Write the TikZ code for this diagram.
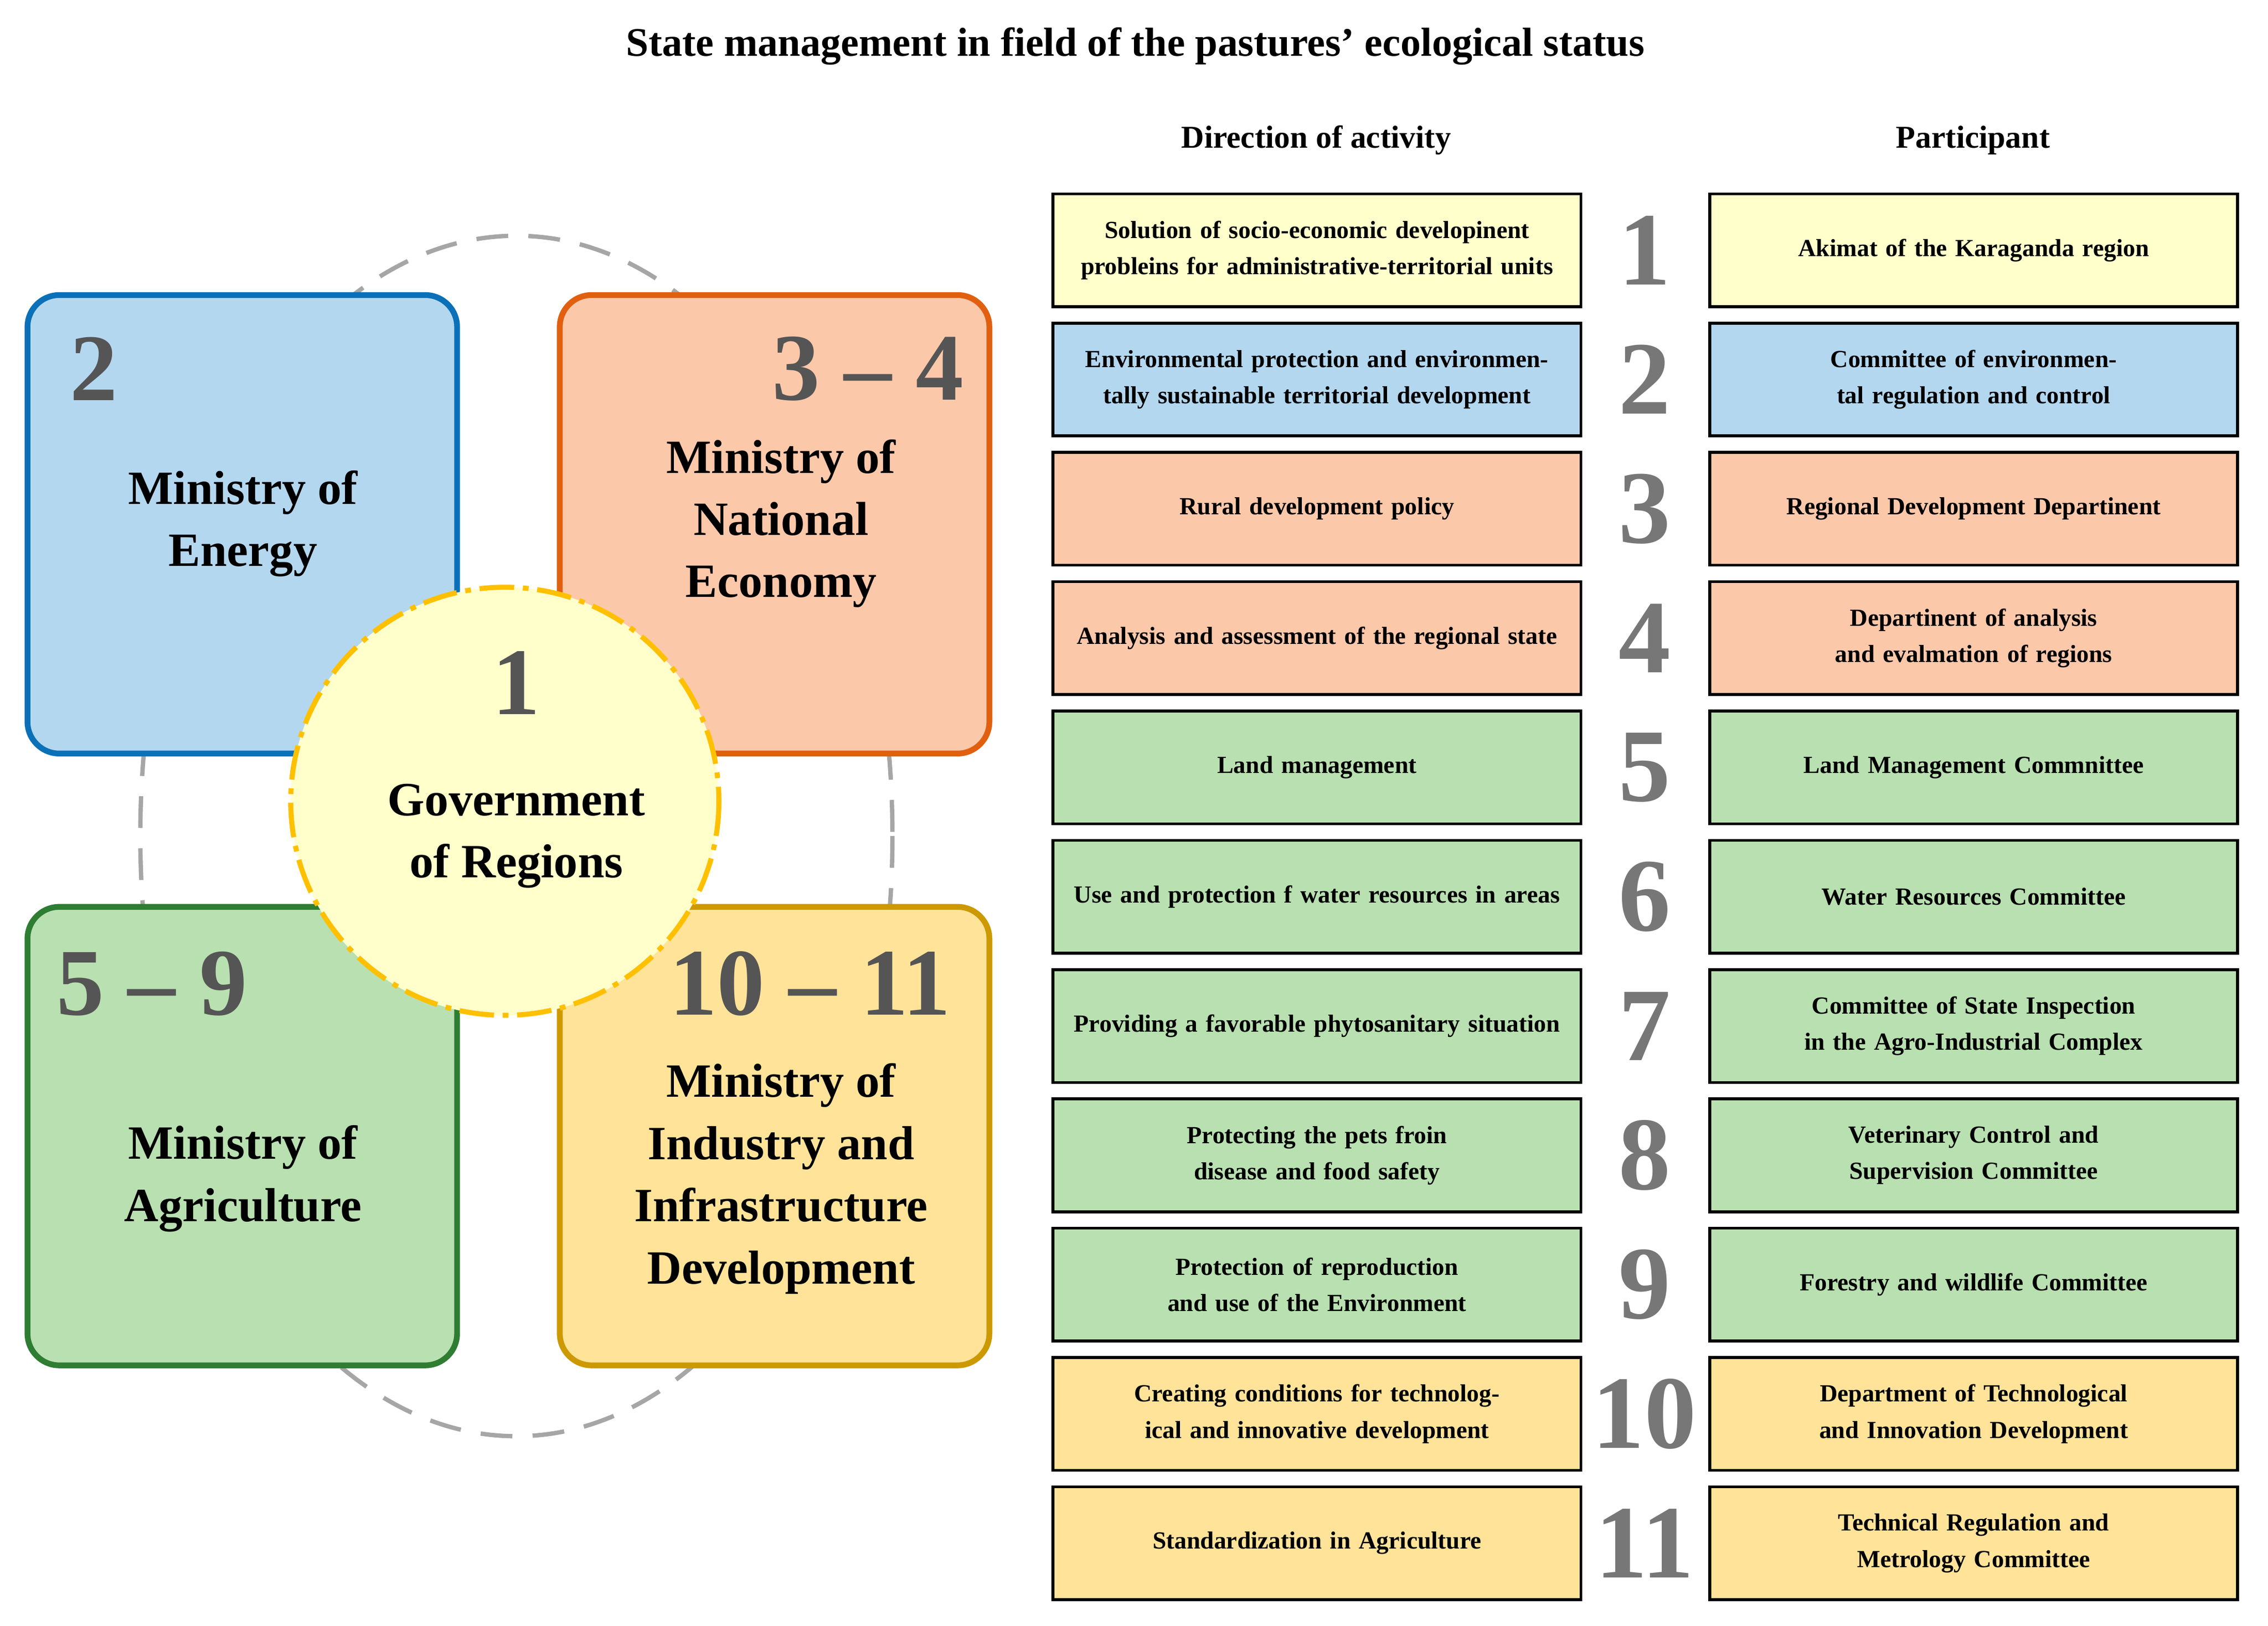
\documentclass[tikz,border=0pt]{standalone}
\usepackage{fontspec}
\setmainfont{Liberation Serif}
\definecolor{cyel}{HTML}{FFFFCC}
\definecolor{cblu}{HTML}{B4D7F0}
\definecolor{cora}{HTML}{FCC8AA}
\definecolor{cgrn}{HTML}{B9E0B0}
\definecolor{cgld}{HTML}{FFE399}
\definecolor{numg}{HTML}{777777}
\definecolor{bigg}{HTML}{555555}
\begin{document}
\begin{tikzpicture}[x=1pt,y=-1pt,
  cell/.style={draw=black,line width=2pt,minimum width=365pt,minimum height=78pt,text width=350pt,align=center,font=\fontsize{17}{25}\selectfont\bfseries},
  rnum/.style={font=\fontsize{72}{72}\selectfont\bfseries,text=numg},
  mbox/.style={line width=4pt,rounded corners=22pt},
  mtext/.style={font=\fontsize{33}{43}\selectfont\bfseries,align=center},
  mnum/.style={font=\fontsize{66}{66}\selectfont\bfseries,text=bigg}]
\useasboundingbox (0,0) rectangle (1568,1124);
\node[font=\fontsize{28}{32}\selectfont\bfseries] (title) at (785,32) {State management in field of the pastures' ecological status};
\node[font=\fontsize{22}{26}\selectfont\bfseries] (h1) at (910,97) {Direction of activity};
\node[font=\fontsize{22}{26}\selectfont\bfseries] (h2) at (1364,97) {Participant};
% left diagram
\draw[dashed,gray!70,line width=3pt,dash pattern=on 22pt off 14pt] (357,578) ellipse [x radius=260,y radius=415];
\draw[mbox,draw={rgb,255:red,10;green,112;blue,184},fill=cblu] (19,204) rectangle (316,521);
\draw[mbox,draw={rgb,255:red,224;green,96;blue,16},fill=cora] (387,204) rectangle (684,521);
\draw[mbox,draw={rgb,255:red,46;green,125;blue,50},fill=cgrn] (19,627) rectangle (316,944);
\draw[mbox,draw={rgb,255:red,204;green,153;blue,0},fill=cgld] (387,627) rectangle (684,944);
\node[mnum] (n2) at (65,255) {2};
\node[mnum] (n34) at (600,255) {3 – 4};
\node[mnum] (n59) at (105,680) {5 – 9};
\node[mnum] (n1011) at (560,680) {10 – 11};
\node[mtext] (e) at (168,362) {Ministry of\\Energy};
\node[mtext] (ne) at (540,362) {Ministry of\\National\\Economy};
\node[mtext] (ag) at (168,815) {Ministry of\\Agriculture};
\node[mtext] (in) at (540,815) {Ministry of\\Industry and\\Infrastructure\\Development};
\draw[fill=cyel,draw={rgb,255:red,255;green,192;blue,0},line width=3.5pt,dash pattern=on 24pt off 6pt on 4pt off 6pt] (349,554) circle (148);
\node[mnum] (c1) at (357,472) {1};
\node[mtext] (gov) at (357,578) {Government\\of Regions};
% table
\foreach \i/\c/\a/\b in {
1/cyel/{Solution of socio-economic developinent probleins for administrative-territorial units}/{Akimat of the Karaganda region},
2/cblu/{Environmental protection and environmentally sustainable territorial development}/{Committee of environmental regulation and control},
3/cora/{Rural development policy}/{Regional Development Departinent},
4/cora/{Analysis and assessment of the regional state}/{Departinent of analysis and evalmation of regions},
5/cgrn/{Land management}/{Land Management Commnittee},
6/cgrn/{Use and protection f water resources in areas}/{Water Resources Committee},
7/cgrn/{Providing a favorable phytosanitary situation}/{Committee of State Inspection in the Agro-Industrial Complex},
8/cgrn/{Protecting the pets froin disease and food safety}/{Veterinary Control and Supervision Committee},
9/cgrn/{Protection of reproduction and use of the Environment}/{Forestry and wildlife Committee},
10/cgld/{Creating conditions for technological and innovative development}/{Department of Technological and Innovation Development},
11/cgld/{Standardization in Agriculture}/{Technical Regulation and Metrology Committee}}{
  \pgfmathsetmacro{\yy}{173+(\i-1)*89.4}
  \node[cell,fill=\c] (a\i) at (910.5,\yy) {\a};
  \node[cell,fill=\c] (b\i) at (1364.5,\yy) {\b};
  \node[rnum] (r\i) at (1137,\yy) {\i};
}
\end{tikzpicture}
\end{document}
